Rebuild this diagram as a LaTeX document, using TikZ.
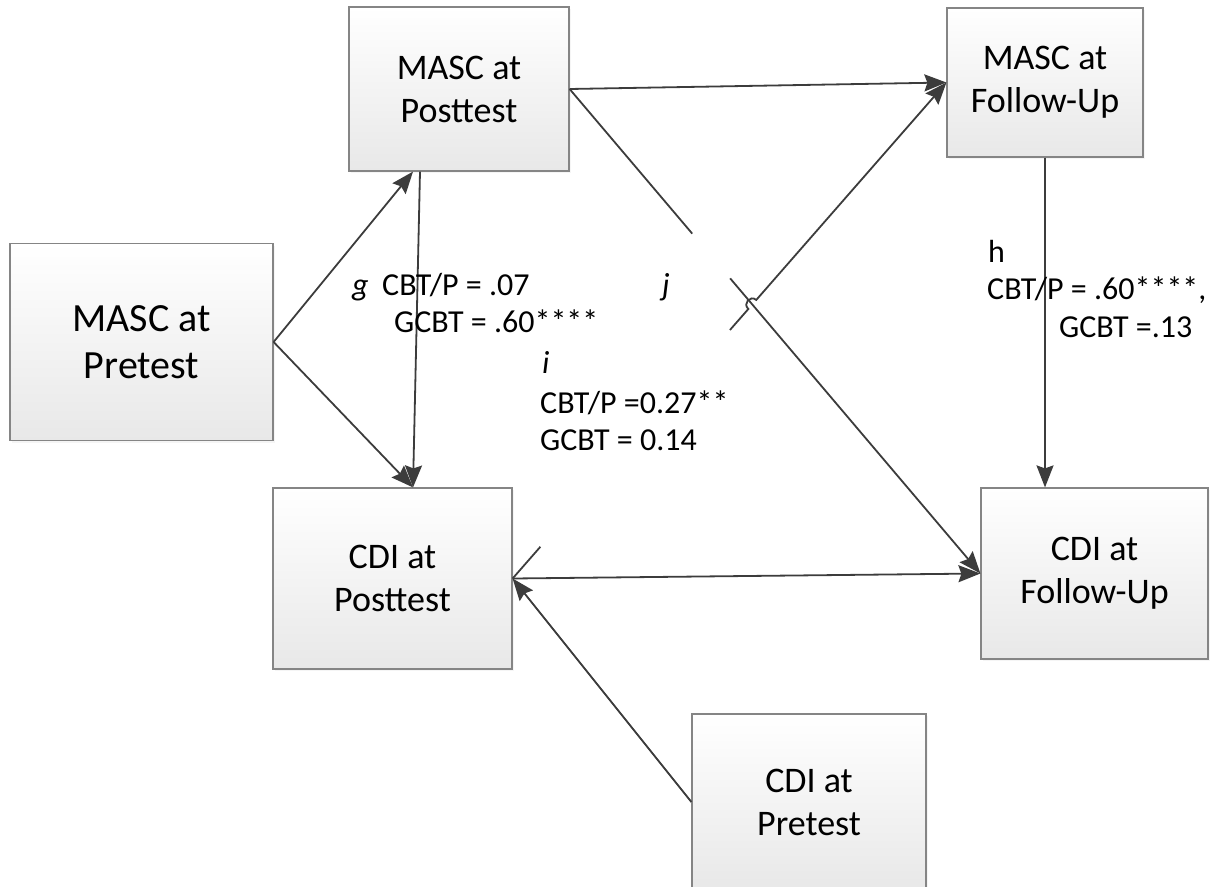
\documentclass[tikz,border=0pt]{standalone}
\usepackage{fontspec}
\setmainfont{Carlito}
\usetikzlibrary{arrows.meta,calc,shadows}

\definecolor{boxline}{HTML}{858585}
\definecolor{boxfill}{HTML}{E8E8E8}
\definecolor{linecol}{HTML}{3C3C3C}

\begin{document}
\begin{tikzpicture}[x=1pt,y=-1pt,
  box/.style={draw=boxline, line width=1.2pt, top color=white, bottom color=boxfill,
    align=center, inner sep=0pt,
    drop shadow={shadow xshift=2pt, shadow yshift=-2pt, opacity=0.08}},
  big/.style={font=\fontsize{40}{47}\selectfont},
  mid/.style={font=\fontsize{36}{43}\selectfont},
  lab/.style={font=\fontsize{32}{37}\selectfont, anchor=base west, inner sep=0pt},
  link/.style={draw=linecol, line width=1.8pt},
  arr/.style={link, -{Stealth[length=22pt,width=17pt,inset=3pt]}}
]
\useasboundingbox (0,0) rectangle (1214,886);

% measures
\node[box,big,minimum width=263pt,minimum height=197pt] (mpre)  at (141.5,342)  {MASC at\\Pretest};
\node[box,mid,minimum width=220pt,minimum height=164pt] (mpost) at (459,89)     {MASC at\\Posttest};
\node[box,mid,minimum width=196pt,minimum height=149pt] (mfu)   at (1045,82.5)  {MASC at\\Follow-Up};
\node[box,mid,minimum width=239pt,minimum height=181pt] (cpost) at (392.5,578.5){CDI at\\Posttest};
\node[box,mid,minimum width=227pt,minimum height=171pt] (cfu)   at (1094.5,573.5){CDI at\\Follow-Up};
\node[box,mid,minimum width=234pt,minimum height=176pt] (cpre)  at (809,802)    {CDI at\\Pretest};

% paths from the pretest anxiety score
\draw[arr] (mpre.east) -- ([xshift=-46pt]mpost.south);
\draw[arr] (mpre.east) -- ([xshift=20.5pt]cpost.north);
\draw[arr] ([xshift=-39pt]mpost.south) -- ([xshift=20.5pt]cpost.north);

% stability paths
\draw[arr] (mpost.east) -- (mfu.west);
\draw[arr] (cpost.east) -- (cfu.west);
\draw[arr] (cpre.west) -- (cpost.east);
\draw[arr] (mfu.south) -- (mfu.south |- cfu.north);

% cross-lagged path i (broken in the middle)
\draw[link] (mpost.east) -- ($(mpost.east)!0.2985!(cfu.west)$);
\draw[arr] ($(mpost.east)!0.3908!(cfu.west)$) -- (cfu.west);

% cross-lagged path j (broken, with a hop over path i)
\coordinate (X) at (intersection of mpost.east--cfu.west and cpost.east--mfu.west);
\coordinate (hopA) at ($(X)!6pt!(cpost.east)$);
\coordinate (hopB) at ($(X)!6pt!(mfu.west)$);
\draw[link] (cpost.east) -- ($(cpost.east)!0.064!(mfu.west)$);
\draw[arr] ($(cpost.east)!0.501!(mfu.west)$) -- (hopA)
  .. controls ($(hopA)!8pt!90:(X)$) and ($(hopB)!8pt!-90:(X)$) .. (hopB) -- (mfu.west);

% coefficient labels
\node[lab] (gl) at (352,295) {\textit{g}};
\node[lab] (g1) at (382,295) {CBT/P = .07};
\node[lab] (g2) at (394,332) {GCBT = .60****};
\node[lab] (jl) at (662,295) {\textit{j}};
\node[lab] (il) at (542,373) {\textit{i}};
\node[lab] (i1) at (540,413) {CBT/P =0.27**};
\node[lab] (i2) at (540,450) {GCBT = 0.14};
\node[lab] (hl) at (988,262) {h};
\node[lab] (h1) at (987,299) {CBT/P = .60****,};
\node[lab] (h2) at (1059,337) {GCBT =.13};
\end{tikzpicture}
\end{document}
